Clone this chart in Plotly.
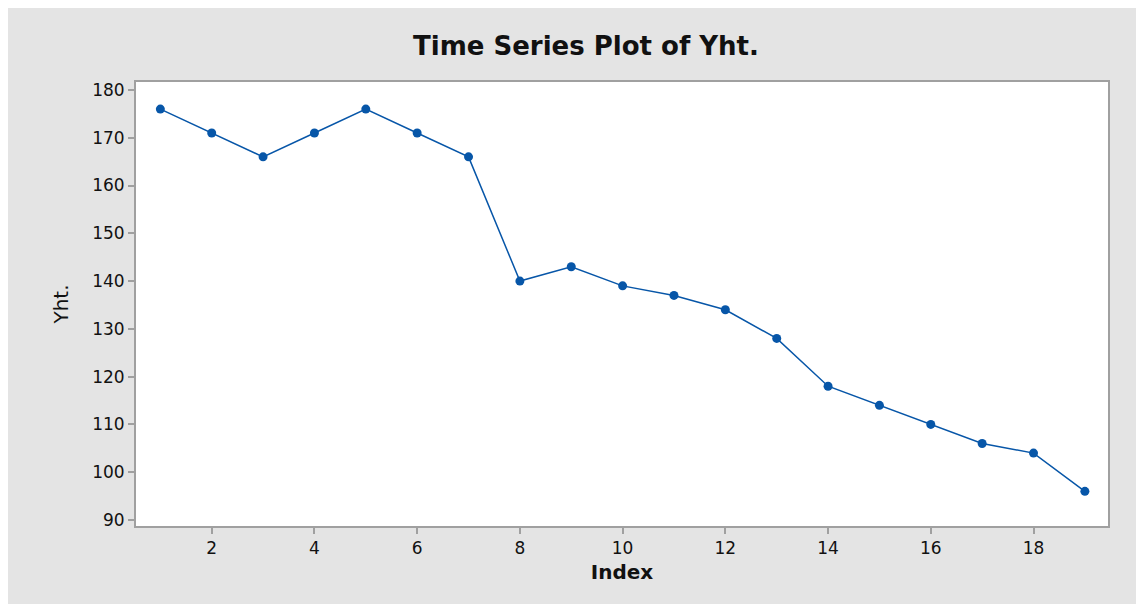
import plotly.graph_objects as go

index = list(range(1, 20))
yht = [176, 171, 166, 171, 176, 171, 166, 140, 143, 139, 137, 134, 128, 118, 114, 110, 106, 104, 96]
x_ticks = [2, 4, 6, 8, 10, 12, 14, 16, 18]
y_ticks = [90, 100, 110, 120, 130, 140, 150, 160, 170, 180]

FONT = "DejaVu Sans"
TXT = "#111111"

fig = go.Figure()
fig.add_trace(go.Scatter(
    x=index, y=yht, mode="lines+markers",
    line=dict(color="#0756a8", width=1.5),
    marker=dict(color="#0756a8", size=9),
    showlegend=False,
))

axis_common = dict(
    showline=True, linecolor="#a0a0a0", linewidth=2, mirror=True,
    ticks="outside", ticklen=6, tickcolor="#a0a0a0", tickwidth=1.5,
    showgrid=False, zeroline=False,
    tickfont=dict(family=FONT, size=17, color=TXT),
)

# page body has an 8px margin, so the figure is sized to fill the rest
W, H = 1136, 596
fig.update_layout(
    width=W, height=H,
    paper_bgcolor="#e4e4e4", plot_bgcolor="white",
    margin=dict(l=128, r=36, t=74, b=78),
    title=dict(text="Time Series Plot of Yht.", x=(586 - 8) / W, xanchor="center",
               y=1 - 37.5 / H, yanchor="middle",
               font=dict(family=FONT, size=26, color=TXT, weight="bold")),
    xaxis=dict(**axis_common, range=[0.526, 19.45], tickvals=x_ticks,
               title=dict(text="Index", font=dict(family=FONT, size=20, color=TXT, weight="bold"), standoff=8)),
    yaxis=dict(**axis_common, range=[88.74, 181.67], tickvals=y_ticks,
               title=dict(text="Yht.", font=dict(family=FONT, size=20, color=TXT), standoff=18)),
)

fig.write_html("out.html")
